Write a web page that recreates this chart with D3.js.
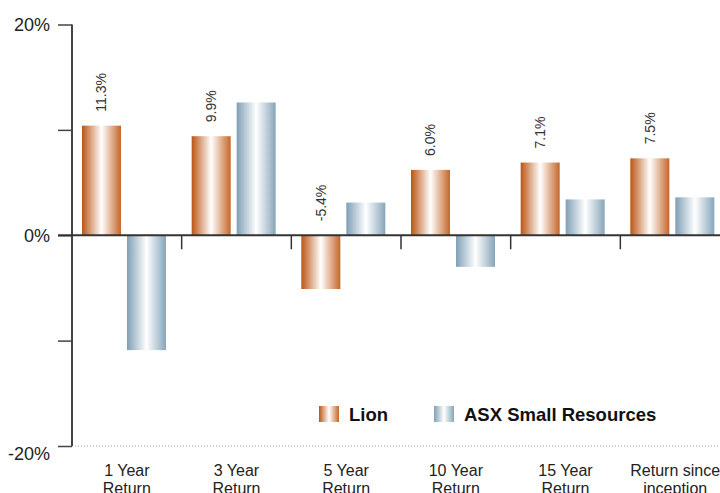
<!DOCTYPE html>
<html>
<head>
<meta charset="utf-8">
<script src="https://cdn.jsdelivr.net/npm/d3@7"></script>
<style>
  body { margin: 0; background: #fff; }
  text { font-family: "Liberation Sans", Arial, Helvetica, sans-serif; }
</style>
</head>
<body>
<div id="chart"></div>
<script>
// chart values
const categories = ['1 Year Return', '3 Year Return', '5 Year Return', '10 Year Return', '15 Year Return', 'Return since inception'];
const categoryLines = [['1 Year', 'Return'], ['3 Year', 'Return'], ['5 Year', 'Return'], ['10 Year', 'Return'], ['15 Year', 'Return'], ['Return since', 'inception']];
const lionValues = [10.4, 9.4, -5.1, 6.2, 6.9, 7.3];
const asxValues = [-10.9, 12.6, 3.1, -3.0, 3.4, 3.6];
const lionLabels = ['11.3%', '9.9%', '-5.4%', '6.0%', '7.1%', '7.5%'];
const seriesNames = ['Lion', 'ASX Small Resources'];
const yTicks = [-20, -10, 0, 10, 20];
const yTickLabels = {'-20': '-20%', '0': '0%', '20': '20%'};

const width = 720, height = 493;

const svg = d3.select('#chart')
              .append('svg')
              .attr('width', width)
              .attr('height', height);

const defs = svg.append('defs');

function addGradient(id, edge, edge2) {
    const g = defs.append('linearGradient')
                  .attr('id', id)
                  .attr('x1', '0%').attr('x2', '100%')
                  .attr('y1', '0%').attr('y2', '0%');
    g.append('stop').attr('offset', '0%').attr('stop-color', edge);
    g.append('stop').attr('offset', '50%').attr('stop-color', '#ffffff');
    g.append('stop').attr('offset', '100%').attr('stop-color', edge2);
}
addGradient('lionGrad', '#bb5514', '#c4662a');
addGradient('asxGrad', '#7f9fb5', '#87a5b9');

const y = d3.scaleLinear().domain([-20, 20]).range([446, 24.5]);
const x = d3.scaleBand().domain(categories).range([72, 730]);
const xs = d3.scaleBand().domain(seriesNames).range([10, 94]).paddingInner(0.133);

// dotted line at -20%
svg.append('line')
   .attr('x1', 72).attr('x2', width)
   .attr('y1', y(-20)).attr('y2', y(-20))
   .attr('stroke', '#999')
   .attr('stroke-width', 1)
   .attr('stroke-dasharray', '1,2');

// bars
const rows = categories.map((c, i) => ({cat: c, lion: lionValues[i], asx: asxValues[i], label: lionLabels[i]}));

const groups = svg.append('g')
                  .selectAll('g')
                  .data(rows)
                  .enter().append('g')
                  .attr('transform', d => `translate(${x(d.cat)},0)`);

groups.append('rect')
      .attr('x', xs('Lion'))
      .attr('width', xs.bandwidth())
      .attr('y', d => y(Math.max(0, d.lion)))
      .attr('height', d => Math.abs(y(d.lion) - y(0)))
      .attr('fill', 'url(#lionGrad)');

groups.append('rect')
      .attr('x', xs('ASX Small Resources'))
      .attr('width', xs.bandwidth())
      .attr('y', d => y(Math.max(0, d.asx)))
      .attr('height', d => Math.abs(y(d.asx) - y(0)))
      .attr('fill', 'url(#asxGrad)');

// rotated value labels above the Lion bars
groups.append('text')
      .attr('transform', d => {
          const cx = xs('Lion') + xs.bandwidth() / 2;
          const ty = y(Math.max(0, d.lion)) - 14;
          return `translate(${cx},${ty}) rotate(-90)`;
      })
      .attr('dy', '0.35em')
      .attr('font-size', 14)
      .attr('fill', '#333')
      .text(d => d.label);

// y axis
const yAxis = d3.axisLeft(y)
                .tickValues(yTicks)
                .tickSize(14)
                .tickPadding(8)
                .tickFormat(d => yTickLabels[d] || '');

const yg = svg.append('g')
              .attr('transform', 'translate(72,0)')
              .call(yAxis);
yg.select('.domain').attr('stroke', '#444').attr('stroke-width', 2).attr('d', `M0,${y(20)}V${y(-20)}`);
yg.selectAll('.tick line').attr('stroke', '#444').attr('stroke-width', 1.5);
yg.selectAll('.tick text')
  .attr('font-size', 18)
  .attr('fill', '#222')
  .attr('font-family', '"Liberation Sans", Arial, sans-serif');
yg.selectAll('.tick text').filter(d => d === -20).attr('dy', '0.75em');

// zero baseline
svg.append('line')
   .attr('x1', 58).attr('x2', width)
   .attr('y1', y(0)).attr('y2', y(0))
   .attr('stroke', '#333')
   .attr('stroke-width', 2);

// category boundary ticks
svg.append('g')
   .selectAll('line')
   .data(categories.slice(1))
   .enter().append('line')
   .attr('x1', d => x(d)).attr('x2', d => x(d))
   .attr('y1', y(0)).attr('y2', y(0) + 14)
   .attr('stroke', '#333')
   .attr('stroke-width', 1.5);

// category labels
const catText = svg.append('g')
                   .selectAll('text')
                   .data(categories)
                   .enter().append('text')
                   .attr('x', d => x(d) + x.bandwidth() / 2)
                   .attr('y', 476)
                   .attr('text-anchor', 'middle')
                   .attr('font-size', 16)
                   .attr('fill', '#222');
catText.selectAll('tspan')
       .data((d, i) => categoryLines[i])
       .enter().append('tspan')
       .attr('x', function() { return this.parentNode.getAttribute('x'); })
       .attr('dy', (d, i) => i === 0 ? 0 : 18)
       .text(d => d);

// legend
const legendX = [319, 434];
const legendFill = ['url(#lionGrad)', 'url(#asxGrad)'];
const legend = svg.append('g')
                  .selectAll('g')
                  .data(seriesNames)
                  .enter().append('g')
                  .attr('transform', (d, i) => `translate(${legendX[i]},406)`);
legend.append('rect')
      .attr('width', 20)
      .attr('height', 16)
      .attr('fill', (d, i) => legendFill[i]);
legend.append('text')
      .attr('x', 30)
      .attr('y', 15)
      .attr('font-size', 18.5)
      .attr('font-weight', 'bold')
      .attr('fill', '#111')
      .text(d => d);
</script>
</body>
</html>
